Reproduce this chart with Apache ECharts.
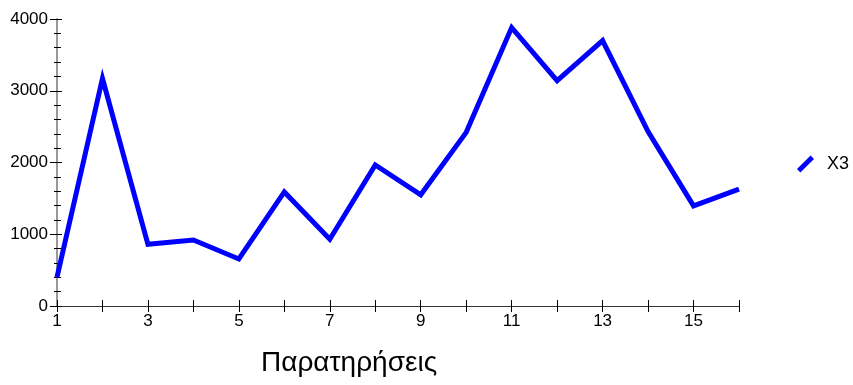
<!DOCTYPE html>
<html>
<head>
<meta charset="utf-8">
<script src="https://cdn.jsdelivr.net/npm/echarts@6/dist/echarts.min.js"></script>
<style>html,body{margin:0;padding:0;background:#fff}#c{width:853px;height:385px}</style>
</head>
<body>
<div id="c"></div>
<script>
var observations = [1,2,3,4,5,6,7,8,9,10,11,12,13,14,15,16];
var x3 = [400,3170,860,920,655,1590,930,1965,1550,2420,3880,3140,3700,2430,1395,1630];
var xTickLabels = ['1','3','5','7','9','11','13','15'];
var yTicks = [0,1000,2000,3000,4000];
var seriesName = 'X3';
var xTitle = 'Παρατηρήσεις';

var chart = echarts.init(document.getElementById('c'), null, {renderer:'canvas'});
var font = '"Liberation Sans", Arial, sans-serif';
var pts = observations.map(function(o,i){return [o, x3[i]];});
chart.setOption({
  animation:false,
  backgroundColor:'#fff',
  title:{text:xTitle,left:256,top:344,textStyle:{fontFamily:font,fontSize:28,fontWeight:'normal',color:'#000'}},
  legend:{data:[seriesName],orient:'vertical',left:792,top:150,itemWidth:17,itemHeight:18,
    icon:'path://M0,8 L8,0 L10,2 L2,10 Z',
    textStyle:{fontFamily:font,fontSize:18,color:'#000',padding:[0,0,0,8]},itemGap:10},
  grid:{left:57,right:114,top:19,bottom:79,containLabel:false},
  xAxis:[{type:'value',min:observations[0],max:observations[observations.length-1],interval:1,
      axisLine:{lineStyle:{color:'#333',width:1}},
      axisTick:{inside:false,length:6,lineStyle:{color:'#000'}},
      splitLine:{show:false},
      axisLabel:{margin:7,fontFamily:font,fontSize:17,color:'#000',
        formatter:function(v){return xTickLabels.indexOf(String(v))>=0?String(v):'';}}},
    {type:'value',position:'bottom',offset:0,min:observations[0],max:observations[observations.length-1],interval:1,
      axisLine:{show:false},axisTick:{inside:true,length:6,lineStyle:{color:'#000'}},
      splitLine:{show:false},axisLabel:{show:false}}],
  yAxis:[{type:'value',min:yTicks[0],max:yTicks[yTicks.length-1],interval:1000,
      axisLine:{show:true,lineStyle:{color:'#777',width:1.5}},
      axisTick:{show:true,inside:false,length:7,lineStyle:{color:'#000'}},
      minorTick:{show:true,splitNumber:5,length:3,lineStyle:{color:'#000'}},
      splitLine:{show:false},
      axisLabel:{margin:9,fontFamily:font,fontSize:17,color:'#000',formatter:function(v){return String(v);}}},
    {type:'value',position:'left',offset:0,min:yTicks[0],max:yTicks[yTicks.length-1],interval:1000,
      axisLine:{show:false},
      axisTick:{show:true,inside:true,length:5,lineStyle:{color:'#000'}},
      minorTick:{show:true,splitNumber:5,length:4,lineStyle:{color:'#000'}},
      splitLine:{show:false},axisLabel:{show:false}}],
  series:[{name:seriesName,type:'line',data:pts,showSymbol:false,symbol:'none',
    lineStyle:{color:'#0000ff',width:5,join:'miter'},itemStyle:{color:'#0000ff'}}]
});
</script>
</body>
</html>
